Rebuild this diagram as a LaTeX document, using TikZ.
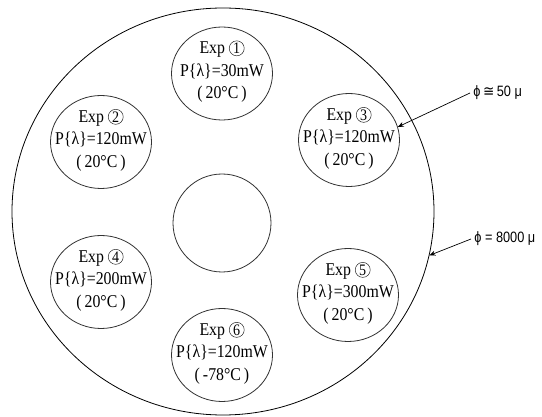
\documentclass[tikz,border=0pt]{standalone}
\usepackage{fontspec}
\setmainfont{Liberation Serif}[FakeStretch=0.88]
\newfontfamily\djv{DejaVu Sans}[FakeStretch=0.9]
\newfontfamily\lsans{Liberation Sans}[FakeStretch=0.85]
\usetikzlibrary{arrows.meta,shapes.geometric}
\newcommand\cnum[1]{\tikz[baseline=(cn.base)]\node[draw=black!85,line width=0.5pt,circle,inner sep=0pt,minimum size=15pt,font=\fontsize{16}{16}\selectfont](cn){#1};}
\begin{document}
\begin{tikzpicture}[x=1pt,y=-1pt,line width=0.8pt,
  ring/.style={draw=black!80,ellipse,inner sep=0pt,minimum width=101pt,minimum height=93pt},
  exptext/.style={inner sep=0pt,align=center,font=\fontsize{18}{22.5}\selectfont},
  hole/.style={draw=black!80,circle,inner sep=0pt,minimum size=98pt},
  disk/.style={draw=black,ellipse,inner sep=0pt,minimum width=422pt,minimum height=407pt},
  lab/.style={anchor=west,inner sep=0pt,font=\lsans\fontsize{15}{17}\selectfont},
  pointer/.style={-{Stealth[length=6pt,width=5pt]},line width=0.7pt}]
\useasboundingbox (0,0) rectangle (542,417);
\node[disk] (big) at (223,211.5) {};
\node[hole] (hole) at (222,223) {};
\node[ring] (e1) at (222,73.5) {};
\node[ring] (e2) at (101,142) {};
\node[ring] (e3) at (349,140) {};
\node[ring] (e4) at (101,282) {};
\node[ring] (e5) at (348,295) {};
\node[ring] (e6) at (222,355) {};
\node[exptext] (t1) at ([yshift=2pt]e1.center) {Exp \cnum{1}\\P\{λ\}=30mW\\(\,20°C\,)};
\node[exptext] (t2) at ([yshift=2pt]e2.center) {Exp \cnum{2}\\P\{λ\}=120mW\\(\,20°C\,)};
\node[exptext] (t3) at ([yshift=2pt]e3.center) {Exp \cnum{3}\\P\{λ\}=120mW\\(\,20°C\,)};
\node[exptext] (t4) at ([yshift=2pt]e4.center) {Exp \cnum{4}\\P\{λ\}=200mW\\(\,20°C\,)};
\node[exptext] (t5) at ([yshift=2pt]e5.center) {Exp \cnum{5}\\P\{λ\}=300mW\\(\,20°C\,)};
\node[exptext] (t6) at ([yshift=2pt]e6.center) {Exp \cnum{6}\\P\{λ\}=120mW\\(\,-78°C\,)};
\node[lab] (l1) at (473,93) {ϕ\,{\djv ≅}\,50 μ};
\node[lab] (l2) at (474,239) {ϕ = 8000 μ};
\draw[pointer] ([xshift=-3pt]l1.west) -- (e3.15);
\draw[pointer] ([xshift=-3pt]l2.west) -- (big.-12);
\end{tikzpicture}
\end{document}
